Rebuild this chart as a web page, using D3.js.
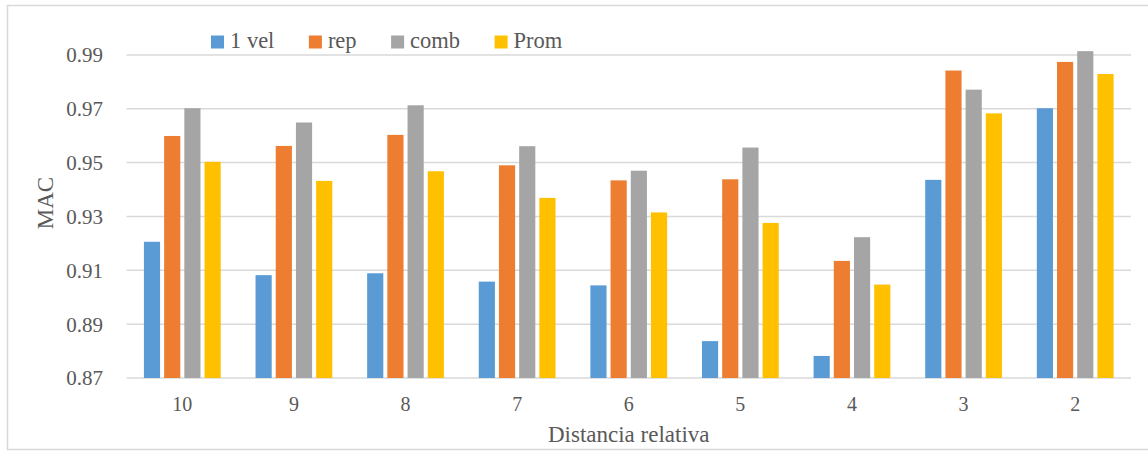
<!DOCTYPE html>
<html>
<head>
<meta charset="utf-8">
<script src="https://cdn.jsdelivr.net/npm/d3@7"></script>
<style>
  html, body { margin: 0; padding: 0; background: #fff; }
  svg text { font-family: "Liberation Serif", "Times New Roman", serif; fill: #595959; }
</style>
</head>
<body>
<svg id="chart" width="1148" height="451"></svg>
<script>
// ---- data ----
const categories = ["10", "9", "8", "7", "6", "5", "4", "3", "2"];
const seriesNames = ["1 vel", "rep", "comb", "Prom"];
const vel1 = [0.9206, 0.9082, 0.9089, 0.9058, 0.9044, 0.8837, 0.8782, 0.9436, 0.9702];
const rep  = [0.9599, 0.9562, 0.9603, 0.9490, 0.9434, 0.9438, 0.9135, 0.9842, 0.9874];
const comb = [0.9702, 0.9649, 0.9713, 0.9561, 0.9470, 0.9556, 0.9223, 0.9771, 0.9914];
const prom = [0.9503, 0.9432, 0.9468, 0.9369, 0.9315, 0.9276, 0.9047, 0.9683, 0.9829];
const yTicks = [0.87, 0.89, 0.91, 0.93, 0.95, 0.97, 0.99];
const yDomain = [0.87, 1.0];
const colors = ["#5B9BD5", "#ED7D31", "#A5A5A5", "#FFC000"];
const xTitle = "Distancia relativa";
const yTitle = "MAC";

const seriesValues = [vel1, rep, comb, prom];

// ---- layout ----
const svg = d3.select("#chart");
const plot = { left: 126.5, right: 1131, top: 28, bottom: 378 };

// outer border
svg.append("rect")
  .attr("x", 7.5).attr("y", 5.5)
  .attr("width", 1160).attr("height", 444)
  .attr("fill", "none").attr("stroke", "#D9D9D9").attr("stroke-width", 1.5);

const x0 = d3.scaleBand().domain(categories)
  .range([plot.left, plot.right]).paddingInner(0.276).paddingOuter(0.138);
const x1 = d3.scaleBand().domain(seriesNames)
  .range([0, x0.bandwidth()]).paddingInner(0.2).paddingOuter(0.1);
const y = d3.scaleLinear().domain(yDomain).range([plot.bottom, plot.top]);

// gridlines
svg.append("g").selectAll("line").data(yTicks).join("line")
  .attr("x1", plot.left).attr("x2", plot.right)
  .attr("y1", d => y(d)).attr("y2", d => y(d))
  .attr("stroke", "#D9D9D9").attr("stroke-width", 1.5);

// y axis labels
const yAxis = d3.axisLeft(y).tickValues(yTicks).tickFormat(d3.format(".2f")).tickSize(0).tickPadding(0);
const gy = svg.append("g").attr("transform", `translate(${103},0)`).call(yAxis);
gy.attr("font-family", null);
gy.select(".domain").remove();
gy.selectAll("text").attr("font-size", 21)
  .attr("fill", "#595959").attr("dy", "0.33em");

// x axis labels
const xAxis = d3.axisBottom(x0).tickSize(0).tickPadding(0);
const gx = svg.append("g").attr("transform", `translate(0,${plot.bottom})`).call(xAxis);
gx.attr("font-family", null);
gx.select(".domain").remove();
gx.selectAll("text").attr("font-size", 20)
  .attr("fill", "#595959").attr("dy", null).attr("y", 33);

// bars
const groups = svg.append("g").selectAll("g").data(categories).join("g")
  .attr("transform", d => `translate(${x0(d)},0)`);
groups.selectAll("rect")
  .data((c, i) => seriesNames.map((s, j) => ({ s, j, v: seriesValues[j][i] })))
  .join("rect")
  .attr("x", d => x1(d.s))
  .attr("width", x1.bandwidth())
  .attr("y", d => y(d.v))
  .attr("height", d => y(yDomain[0]) - y(d.v))
  .attr("fill", d => colors[d.j]);

// legend
const legend = svg.append("g").attr("transform", "translate(211,0)");
let lx = 0;
seriesNames.forEach((name, j) => {
  const g = legend.append("g").attr("transform", `translate(${lx},0)`);
  g.append("rect").attr("x", 0).attr("y", 35.5).attr("width", 13).attr("height", 13).attr("fill", colors[j]);
  const t = g.append("text").attr("x", 19).attr("y", 48).attr("font-size", 22.5).text(name);
  lx += 19 + t.node().getComputedTextLength() + 34.5;
});

// axis titles
svg.append("text")
  .attr("x", (plot.left + plot.right) / 2).attr("y", 442)
  .attr("text-anchor", "middle").attr("font-size", 23).text(xTitle);
svg.append("text")
  .attr("transform", `translate(53,${(plot.top + plot.bottom) / 2}) rotate(-90)`)
  .attr("text-anchor", "middle").attr("font-size", 23).text(yTitle);
</script>
</body>
</html>
